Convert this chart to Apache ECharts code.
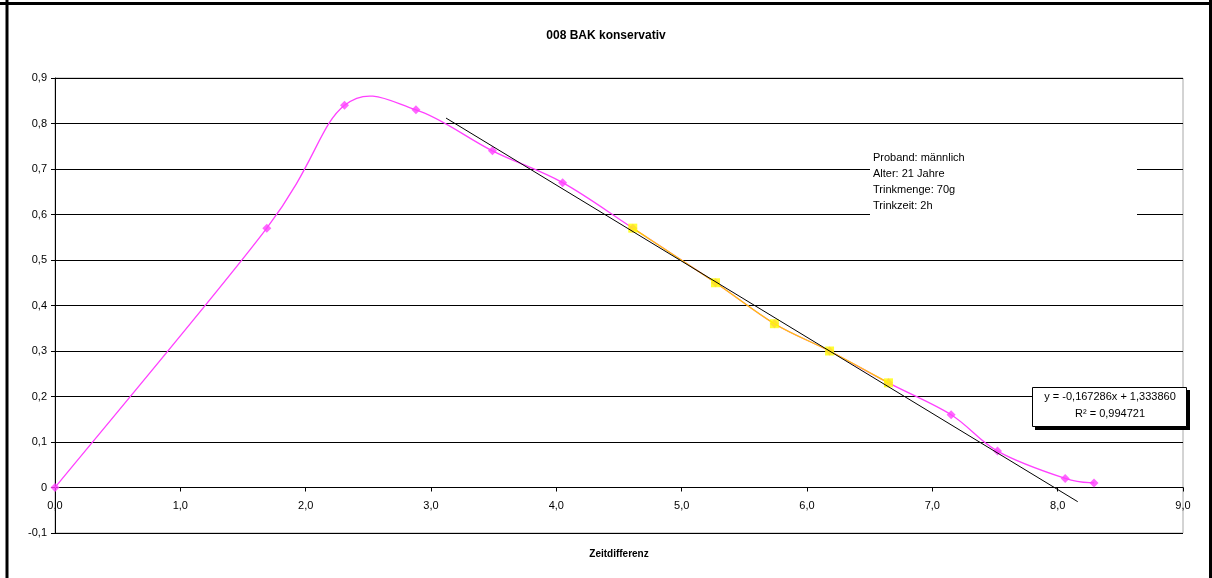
<!DOCTYPE html>
<html>
<head>
<meta charset="utf-8">
<title>008 BAK konservativ</title>
<script src="https://cdn.jsdelivr.net/npm/echarts@6/dist/echarts.min.js"></script>
<style>
  html, body { margin: 0; padding: 0; background: #fff; }
  #chart { width: 1212px; height: 578px; }
</style>
</head>
<body>
<div id="chart"></div>
<script>
// Blutalkoholkonzentration (BAK) über die Zeitdifferenz
const zeit = [0, 1.69, 2.31, 2.88, 3.49, 4.05, 4.61, 5.27, 5.74, 6.18, 6.65, 7.15, 7.52, 8.06, 8.29];
const bak  = [0, 0.57, 0.84, 0.83, 0.74, 0.67, 0.57, 0.45, 0.36, 0.30, 0.23, 0.16, 0.08, 0.02, 0.01];

// Eliminationsphase (für die lineare Regression)
const zeitElim = [4.61, 5.27, 5.74, 6.18, 6.65];
const bakElim  = [0.57, 0.45, 0.36, 0.30, 0.23];

// Regressionsgerade
const steigung = -0.167286;
const achsenabschnitt = 1.333860;
const bestimmtheit = 0.994721;
const trendVon = 3.12;
const trendBis = 8.16;

// Achsen
const xTicks = [0, 1, 2, 3, 4, 5, 6, 7, 8, 9];
const yTicks = [-0.1, 0, 0.1, 0.2, 0.3, 0.4, 0.5, 0.6, 0.7, 0.8, 0.9];

const probandInfo = ['Proband: männlich', 'Alter: 21 Jahre', 'Trinkmenge: 70g', 'Trinkzeit: 2h'];

const FONT = '"Liberation Sans", Arial, sans-serif';
const komma = (v, d) => v.toFixed(d).replace('.', ',');

const PINK = '#ff40ff';
const GELB = '#ffff00';
const ORANGE = '#ffcc00';

// Diagrammfläche
const GRID = { left: 55, top: 78, right: 29, bottom: 45 };
const HOEHE = 578;
const yMin = yTicks[0], yMax = yTicks[yTicks.length - 1];
// Abstand der Nulllinie vom unteren Rand der Diagrammfläche
const nullAbstand = (0 - yMin) / (yMax - yMin) * (HOEHE - GRID.top - GRID.bottom);

const chart = echarts.init(document.getElementById('chart'), null, { renderer: 'canvas' });

const trendLinie = [trendVon, trendBis].map(x => [x, steigung * x + achsenabschnitt]);
const fmtZahl = v => (v < 0 ? '-' : '') + komma(Math.abs(v), 6);
const gleichung = 'y = ' + fmtZahl(steigung) + 'x + ' + komma(achsenabschnitt, 6);
const rQuadrat = 'R² = ' + komma(bestimmtheit, 6);

// Geglättete Linie: je Segment eine Bézierkurve (Catmull-Rom-Tangenten, 1/6)
function glatteLinie(xs, ys, farbe, breite) {
  return function (params, api) {
    const i = params.dataIndex;
    const n = xs.length;
    if (i >= n - 1) return null;
    const k = j => Math.max(0, Math.min(n - 1, j));
    const p = j => api.coord([xs[k(j)], ys[k(j)]]);
    const p0 = p(i - 1), p1 = p(i), p2 = p(i + 1), p3 = p(i + 2);
    return {
      type: 'bezierCurve',
      shape: {
        x1: p1[0], y1: p1[1],
        x2: p2[0], y2: p2[1],
        cpx1: p1[0] + (p2[0] - p0[0]) / 6,
        cpy1: p1[1] + (p2[1] - p0[1]) / 6,
        cpx2: p2[0] - (p3[0] - p1[0]) / 6,
        cpy2: p2[1] - (p3[1] - p1[1]) / 6
      },
      style: { stroke: farbe, fill: null, lineWidth: breite }
    };
  };
}

const Z_BOX = 200;

chart.setOption({
  animation: false,
  backgroundColor: '#ffffff',
  textStyle: { fontFamily: FONT },
  title: {
    text: '008 BAK konservativ',
    left: 'center',
    top: 25,
    textStyle: { fontFamily: FONT, fontSize: 12, fontWeight: 'bold', color: '#000' }
  },
  grid: {
    left: GRID.left, top: GRID.top, right: GRID.right, bottom: GRID.bottom,
    containLabel: false,
    outerBoundsMode: 'none',
    show: true, borderColor: '#a8a8a8', borderWidth: 1, backgroundColor: '#fff'
  },
  xAxis: {
    type: 'value',
    min: xTicks[0], max: xTicks[xTicks.length - 1], interval: 1,
    position: 'bottom',
    offset: -nullAbstand,
    name: 'Zeitdifferenz',
    nameLocation: 'middle',
    nameGap: 62,
    nameTextStyle: { fontFamily: FONT, fontSize: 10, fontWeight: 'bold', color: '#000' },
    axisLine: { onZero: false, lineStyle: { color: '#000', width: 1 } },
    axisTick: { show: true, length: 4, lineStyle: { color: '#000' } },
    axisLabel: {
      fontFamily: FONT, fontSize: 11, color: '#000', margin: 13,
      formatter: v => komma(v, 1)
    },
    splitLine: { show: false }
  },
  yAxis: {
    type: 'value',
    min: yMin, max: yMax, interval: 0.1,
    axisLine: { show: true, onZero: false, lineStyle: { color: '#000', width: 1 } },
    axisTick: { show: true, length: 4, lineStyle: { color: '#000' } },
    axisLabel: {
      fontFamily: FONT, fontSize: 11, color: '#000', margin: 8,
      formatter: v => Math.abs(v) < 1e-9 ? '0' : komma(v, 1)
    },
    splitLine: { show: true, lineStyle: { color: '#000', width: 1 } }
  },
  series: [
    {
      name: 'BAK Kurve',
      type: 'custom',
      data: zeit.map((x, i) => [x, bak[i]]),
      renderItem: glatteLinie(zeit, bak, PINK, 1.3),
      clip: false,
      silent: true,
      z: 3
    },
    {
      name: 'BAK',
      type: 'scatter',
      data: zeit.map((x, i) => [x, bak[i]]),
      symbol: 'diamond',
      symbolSize: 9,
      itemStyle: { color: PINK },
      z: 4
    },
    {
      name: 'Elimination Kurve',
      type: 'custom',
      data: zeitElim.map((x, i) => [x, bakElim[i]]),
      renderItem: glatteLinie(zeitElim, bakElim, ORANGE, 1.3),
      clip: false,
      silent: true,
      z: 5
    },
    {
      name: 'Elimination',
      type: 'scatter',
      data: zeitElim.map((x, i) => [x, bakElim[i]]),
      symbol: 'rect',
      symbolSize: 9,
      itemStyle: { color: GELB },
      z: 6
    },
    {
      name: 'Regression',
      type: 'line',
      data: trendLinie,
      symbol: 'none',
      lineStyle: { color: '#000', width: 1 },
      z: 7
    }
  ],
  graphic: [
    // äußerer Rahmen
    { type: 'line', z: Z_BOX, shape: { x1: 7, y1: 0, x2: 7, y2: 578 }, style: { stroke: '#000', lineWidth: 3 } },
    { type: 'line', z: Z_BOX, shape: { x1: 0, y1: 3.5, x2: 1212, y2: 3.5 }, style: { stroke: '#000', lineWidth: 3 } },
    { type: 'line', z: Z_BOX, shape: { x1: 1210.5, y1: 0, x2: 1210.5, y2: 578 }, style: { stroke: '#000', lineWidth: 3 } },
    // Angaben zum Probanden
    { type: 'rect', z: Z_BOX, shape: { x: 870, y: 146, width: 267, height: 72 }, style: { fill: '#fff' } },
    {
      type: 'text', z: Z_BOX + 1, x: 873, y: 150,
      style: { text: probandInfo.join('\n'), font: '11px ' + FONT, fill: '#000', lineHeight: 16 }
    },
    // Regressionsgleichung
    { type: 'rect', z: Z_BOX, shape: { x: 1035, y: 390, width: 155, height: 40 }, style: { fill: '#000' } },
    { type: 'rect', z: Z_BOX + 1, shape: { x: 1032.5, y: 387.5, width: 154, height: 39 }, style: { fill: '#fff', stroke: '#000', lineWidth: 1 } },
    {
      type: 'text', z: Z_BOX + 2, x: 1110, y: 391,
      style: { text: gleichung, font: '11px ' + FONT, fill: '#000', align: 'center' }
    },
    {
      type: 'text', z: Z_BOX + 2, x: 1110, y: 408,
      style: { text: rQuadrat, font: '11px ' + FONT, fill: '#000', align: 'center' }
    }
  ]
});
</script>
</body>
</html>
